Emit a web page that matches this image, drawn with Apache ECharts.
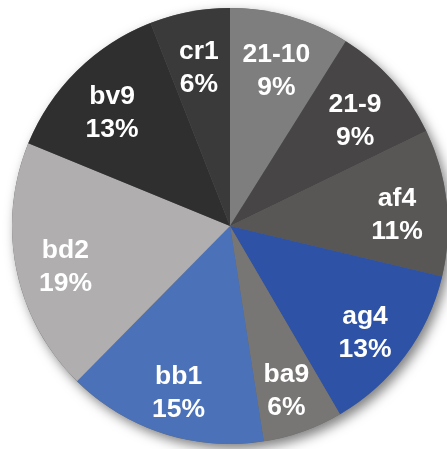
<!DOCTYPE html>
<html>
<head>
<meta charset="utf-8">
<style>
  html, body { margin: 0; padding: 0; background: #fff; }
  #chart { width: 447px; height: 449px; }
</style>
<script src="https://cdn.jsdelivr.net/npm/echarts@6/dist/echarts.min.js"></script>
</head>
<body>
<div id="chart"></div>
<script>
// Share of each group, in percent, clockwise from 12 o'clock
const categories = ['21-10', '21-9', 'af4', 'ag4', 'ba9', 'bb1', 'bd2', 'bv9', 'cr1'];
const shares = [9, 9, 11, 13, 6, 15, 19, 13, 6];
const sliceColors = ['#7f7e7e', '#474545', '#595756', '#2d52a6', '#787675', '#4b72b8', '#b0aeae', '#2f2f2f', '#3a3a3a'];

const pieData = categories.map((name, i) => ({
  name: name,
  value: shares[i],
  itemStyle: { color: sliceColors[i] }
}));

const center = [230, 226];
const outerR = 218;

const chart = echarts.init(document.getElementById('chart'), null, { renderer: 'canvas' });
chart.setOption({
  animation: false,
  backgroundColor: '#ffffff',
  series: [
    // soft drop shadow underneath the whole disc
    {
      type: 'pie',
      silent: true,
      center: center,
      radius: [0, outerR],
      label: { show: false },
      labelLine: { show: false },
      data: [{ value: 1, itemStyle: { color: '#666', shadowBlur: 12, shadowOffsetX: 4, shadowOffsetY: 5, shadowColor: 'rgba(0,0,0,0.5)' } }]
    },
    // the slices
    {
      type: 'pie',
      silent: true,
      center: center,
      radius: [0, outerR],
      startAngle: 90,
      clockwise: true,
      label: { show: false },
      labelLine: { show: false },
      itemStyle: { borderWidth: 0 },
      data: pieData
    },
    // transparent ring carrying the labels toward the rim
    {
      type: 'pie',
      silent: true,
      center: center,
      radius: [112, outerR],
      startAngle: 90,
      clockwise: true,
      itemStyle: { color: 'rgba(0,0,0,0)', borderWidth: 0 },
      labelLine: { show: false },
      label: {
        show: true,
        position: 'inside',
        offset: [0, 7],
        formatter: p => p.name + '\n' + p.value + '%',
        color: '#ffffff',
        fontFamily: 'Liberation Sans, Arial, sans-serif',
        fontWeight: 'bold',
        fontSize: 26.5,
        lineHeight: 33,
        align: 'center'
      },
      data: categories.map((name, i) => ({ name: name, value: shares[i] }))
    }
  ]
});
</script>
</body>
</html>
